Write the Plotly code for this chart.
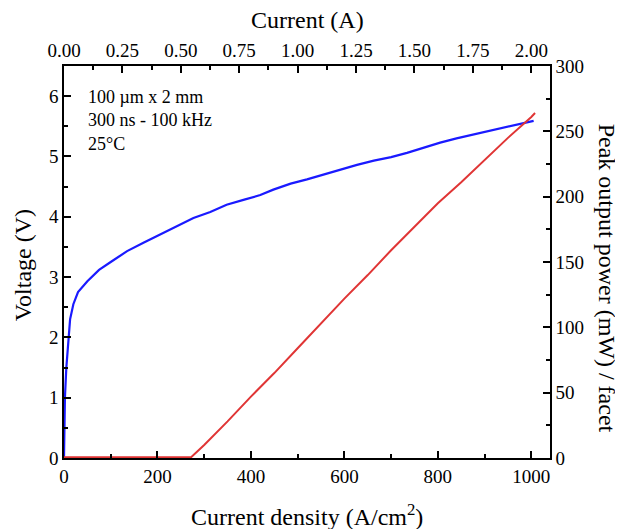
import plotly.graph_objects as go

# Voltage vs current density
j_volt = [0, 2, 5, 8, 13, 20, 30, 50, 75, 100, 135, 170, 205, 240, 277, 313, 348, 384,
          420, 448, 485, 520, 555, 591, 627, 663, 700, 734, 770, 805, 840, 875, 910, 945, 980, 1005]
voltage = [0, 1.0, 1.5, 1.85, 2.3, 2.55, 2.75, 2.93, 3.12, 3.25, 3.43, 3.57, 3.7, 3.84, 3.98,
           4.08, 4.2, 4.28, 4.36, 4.45, 4.55, 4.62, 4.7, 4.78, 4.86, 4.93, 4.99, 5.06, 5.15,
           5.23, 5.3, 5.36, 5.43, 5.49, 5.54, 5.59]

# Peak output power vs current density
j_power = [0, 100, 200, 272, 300, 350, 400, 450, 500, 550, 600, 650, 700, 750, 800, 850,
           900, 950, 1000, 1008]
power = [0.6, 0.6, 0.6, 0.6, 10, 28, 47, 65, 84, 103, 122, 140, 159, 177, 195, 211,
         228, 245, 261, 264]

# Device area conversion: 100 um x 2 mm = 0.002 cm^2 -> I = J * 0.002
area_cm2 = 0.002

note_lines = ["100 µm x 2 mm", "300 ns - 100 kHz", "25°C"]

FONT = "Liberation Serif, Times New Roman, serif"

fig = go.Figure()
fig.add_trace(go.Scatter(x=j_volt, y=voltage, mode="lines",
                         line=dict(color="#1a1aff", width=2.2), xaxis="x", yaxis="y",
                         showlegend=False))
fig.add_trace(go.Scatter(x=j_power, y=power, mode="lines",
                         line=dict(color="#e03535", width=2), xaxis="x", yaxis="y2",
                         showlegend=False))
# helper (invisible) trace for the top current axis
fig.add_trace(go.Scatter(x=[j * area_cm2 for j in j_volt], y=voltage, mode="lines",
                         line=dict(color="rgba(0,0,0,0)", width=0), xaxis="x2", yaxis="y",
                         showlegend=False, hoverinfo="skip"))

axis_common = dict(showline=True, linecolor="black", linewidth=1.5, ticks="inside",
                   ticklen=7, tickwidth=1.5, tickcolor="black", showgrid=False,
                   zeroline=False, automargin=False,
                   tickfont=dict(family=FONT, size=19, color="black"))
minor_common = dict(ticks="inside", ticklen=4, tickwidth=1.5, tickcolor="black", showgrid=False)

# page body has an 8px default margin, so the figure is sized to fit the window
fig.update_layout(
    width=615, height=521,
    margin=dict(l=56, r=73, t=58, b=71),
    paper_bgcolor="white", plot_bgcolor="white",
    font=dict(family=FONT, color="black"),
    xaxis=dict(range=[0, 1040], dtick=200, tick0=0, minor=dict(dtick=100, **minor_common),
               **axis_common),
    xaxis2=dict(range=[0, 1040 * area_cm2], dtick=0.25, tick0=0, tickformat=".2f",
                overlaying="x", side="top", anchor="y",
                minor=dict(dtick=0.125, **minor_common), **axis_common),
    yaxis=dict(range=[0, 6.5], dtick=1, tick0=0, minor=dict(dtick=0.5, **minor_common),
               **axis_common),
    yaxis2=dict(range=[0, 300], dtick=50, tick0=0, overlaying="y", side="right", anchor="x",
                minor=dict(dtick=25, **minor_common), **axis_common),
)

title_font = dict(family=FONT, size=24, color="black")
fig.add_annotation(text="Current density (A/cm<sup>2</sup>)", xref="paper", yref="paper",
                   x=0.5, y=0, yshift=-57, showarrow=False, xanchor="center", yanchor="middle",
                   font=title_font)
fig.add_annotation(text="Current (A)", xref="paper", yref="paper",
                   x=0.5, y=1, yshift=46, showarrow=False, xanchor="center", yanchor="middle",
                   font=title_font)
fig.add_annotation(text="Voltage (V)", xref="paper", yref="paper",
                   x=0, y=0.492, xshift=-41, showarrow=False, textangle=-90,
                   xanchor="center", yanchor="middle", font=title_font)
fig.add_annotation(text="Peak output power (mW) / facet", xref="paper", yref="paper",
                   x=1.0, y=0.46, xshift=57, showarrow=False, textangle=90,
                   xanchor="center", yanchor="middle", font=title_font)

fig.add_annotation(text="<br>".join(note_lines), xref="paper", yref="paper",
                   x=0.046, y=0.952, xanchor="left", yanchor="top", align="left",
                   showarrow=False, font=dict(family=FONT, size=18, color="black"))

fig.write_html("out.html")
